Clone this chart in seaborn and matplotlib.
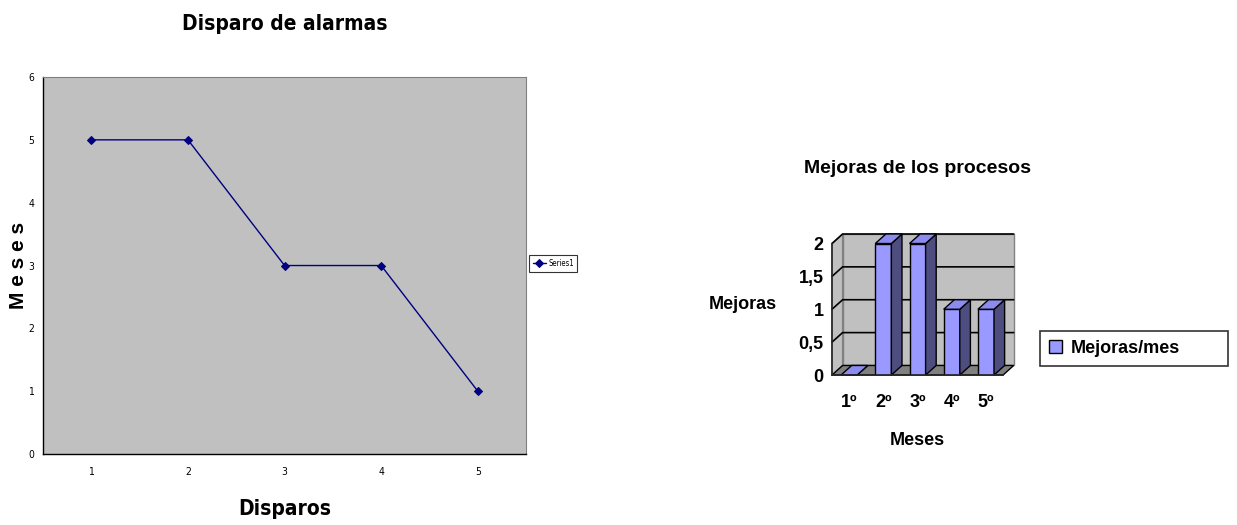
import matplotlib
matplotlib.use("Agg")

import numpy as np
import pandas as pd
import seaborn as sns
import matplotlib.pyplot as plt
from matplotlib.patches import Polygon
from matplotlib import font_manager

# Left chart data
disparos = [1, 2, 3, 4, 5]
meses_val = [5, 5, 3, 3, 1]

# Right chart data
meses_cat = ["1º", "2º", "3º", "4º", "5º"]
mejoras = [0, 2, 2, 1, 1]

sns.set_style("white")
plt.rcParams["font.family"] = ["Liberation Sans", "DejaVu Sans"]
plt.rcParams["text.color"] = "black"
plt.rcParams["axes.labelcolor"] = "black"
plt.rcParams["xtick.color"] = "black"
plt.rcParams["ytick.color"] = "black"

# condensed face for the left chart (Excel used Arial Narrow)
cond = [f.name for f in font_manager.fontManager.ttflist if f.stretch == "condensed"]
narrow = (["DejaVu Sans"] if "DejaVu Sans" in cond else []) + ["Liberation Sans"]
nkw = dict(family=narrow, stretch="condensed")

fig = plt.figure(figsize=(12.37, 5.25), dpi=100)

# ---------------- Left: line chart ----------------
ax1 = fig.add_axes([0.0348, 0.1352, 0.3905, 0.7181])
df1 = pd.DataFrame({"Disparos": disparos, "Meses": meses_val})
sns.lineplot(data=df1, x="Disparos", y="Meses", ax=ax1, color="#000080",
             marker="D", markersize=4, markeredgecolor="#000080",
             linewidth=1, label="Series1")
ax1.set_facecolor("#C0C0C0")
ax1.set_xlim(0.5, 5.5)
ax1.set_ylim(0, 6)
ax1.set_xticks(disparos)
ax1.set_xticks(np.arange(0.5, 5.6, 1), minor=True)
ax1.tick_params(axis="x", which="major", length=0, pad=9, labelsize=7.5)
ax1.tick_params(axis="x", which="minor", length=3, direction="in", width=0.8)
ax1.set_yticks(range(0, 7))
ax1.tick_params(axis="y", length=3, direction="out", labelsize=7.5, width=0.8)
for lab in ax1.get_xticklabels() + ax1.get_yticklabels():
    lab.set_family(narrow)
    lab.set_stretch("condensed")
for s in ["top", "right"]:
    ax1.spines[s].set_color("#808080")
for s in ["left", "bottom"]:
    ax1.spines[s].set_color("black")
    ax1.spines[s].set_linewidth(1)
ax1.set_xlabel("Disparos", fontsize=15, fontweight="bold", labelpad=16, **nkw)
ax1.set_ylabel("M e s e s", fontsize=15, fontweight="bold", labelpad=0)
ax1.set_title("Disparo de alarmas", fontsize=15, fontweight="bold", pad=34, **nkw)
leg = ax1.legend(loc="center left", bbox_to_anchor=(0.998, 0.505), fontsize=5.5,
                 frameon=True, fancybox=False, edgecolor="black", borderpad=0.5,
                 handlelength=1.7, handletextpad=0.3)
leg.get_frame().set_linewidth(0.8)
for t in leg.get_texts():
    t.set_family(narrow)
    t.set_stretch("condensed")

# ---------------- Right: pseudo 3D bar chart ----------------
ax2 = fig.add_axes([0.6726, 0.2857, 0.1383, 0.2686])
dx, dy = 0.31, 0.145
ax2.set_xlim(-0.5, 4.5 + dx)
ax2.set_ylim(0, 2 + dy)

# walls and floor
ax2.add_patch(Polygon([(-0.5 + dx, dy), (4.5 + dx, dy), (4.5 + dx, 2 + dy), (-0.5 + dx, 2 + dy)],
                      closed=True, facecolor="#C0C0C0", edgecolor="#808080", lw=1, zorder=0,
                      clip_on=False))
ax2.add_patch(Polygon([(-0.5, 0), (-0.5 + dx, dy), (-0.5 + dx, 2 + dy), (-0.5, 2)],
                      closed=True, facecolor="#C0C0C0", edgecolor="#808080", lw=1, zorder=0,
                      clip_on=False))
ax2.add_patch(Polygon([(-0.5, 0), (4.5, 0), (4.5 + dx, dy), (-0.5 + dx, dy)],
                      closed=True, facecolor="#808080", edgecolor="black", lw=1, zorder=0.5,
                      clip_on=False))
for v in [0.5, 1, 1.5, 2]:
    ax2.plot([-0.5, -0.5 + dx, 4.5 + dx], [v, v + dy, v + dy], color="black", lw=1.2,
             zorder=0.6, clip_on=False)

df2 = pd.DataFrame({"Meses": meses_cat, "Mejoras": mejoras})
sns.barplot(data=df2, x="Meses", y="Mejoras", ax=ax2, color="#9999FF", saturation=1,
            width=0.47, edgecolor="black", linewidth=1, zorder=2, label="Mejoras/mes")
for p in list(ax2.patches):
    if not hasattr(p, "get_width") or p.get_width() > 1:
        continue
    x0, w, h = p.get_x(), p.get_width(), p.get_height()
    side = Polygon([(x0 + w, 0), (x0 + w + dx, dy), (x0 + w + dx, h + dy), (x0 + w, h)],
                   closed=True, facecolor="#4D4D80", edgecolor="black", lw=1, zorder=2,
                   clip_on=False)
    top = Polygon([(x0, h), (x0 + dx, h + dy), (x0 + w + dx, h + dy), (x0 + w, h)],
                  closed=True, facecolor="#8C8CF0", edgecolor="black", lw=1, zorder=2,
                  clip_on=False)
    ax2.add_patch(side)
    ax2.add_patch(top)

for s in ["top", "right"]:
    ax2.spines[s].set_visible(False)
ax2.spines["left"].set_bounds(0, 2)
ax2.spines["bottom"].set_bounds(-0.5, 4.5)
ax2.spines["left"].set_linewidth(1.2)
ax2.spines["bottom"].set_linewidth(1.2)
ax2.set_yticks([0, 0.5, 1, 1.5, 2])
ax2.set_yticklabels(["0", "0,5", "1", "1,5", "2"], fontsize=13, fontweight="bold")
ax2.tick_params(axis="y", length=4, direction="out", width=1.2, pad=2)
ax2.set_xticks(range(len(meses_cat)))
ax2.set_xticklabels(meses_cat, fontsize=13, fontweight="bold")
ax2.set_xticks(np.arange(-0.5, 4.6, 1), minor=True)
ax2.tick_params(axis="x", which="major", length=0, pad=14)
ax2.tick_params(axis="x", which="minor", length=5, direction="out", width=1.2)
ax2.set_xlabel("Meses", fontsize=13, fontweight="bold", labelpad=15)
ax2.set_ylabel("Mejoras", fontsize=13, fontweight="bold", rotation=0, labelpad=40, va="center")
ax2.set_title("Mejoras de los procesos", fontsize=14, fontweight="bold", pad=44)
ax2.grid(False)

leg2 = ax2.legend(loc="lower left", bbox_to_anchor=(1.216, 0.064, 1.10, 0.236), mode="expand",
                  fontsize=13, frameon=True, fancybox=False, edgecolor="black",
                  borderpad=0.5, borderaxespad=0, handlelength=0.7, handleheight=0.7,
                  handletextpad=0.5)
leg2.get_frame().set_linewidth(1.2)
for t in leg2.get_texts():
    t.set_fontweight("bold")

fig.savefig("out.png", dpi=100)
